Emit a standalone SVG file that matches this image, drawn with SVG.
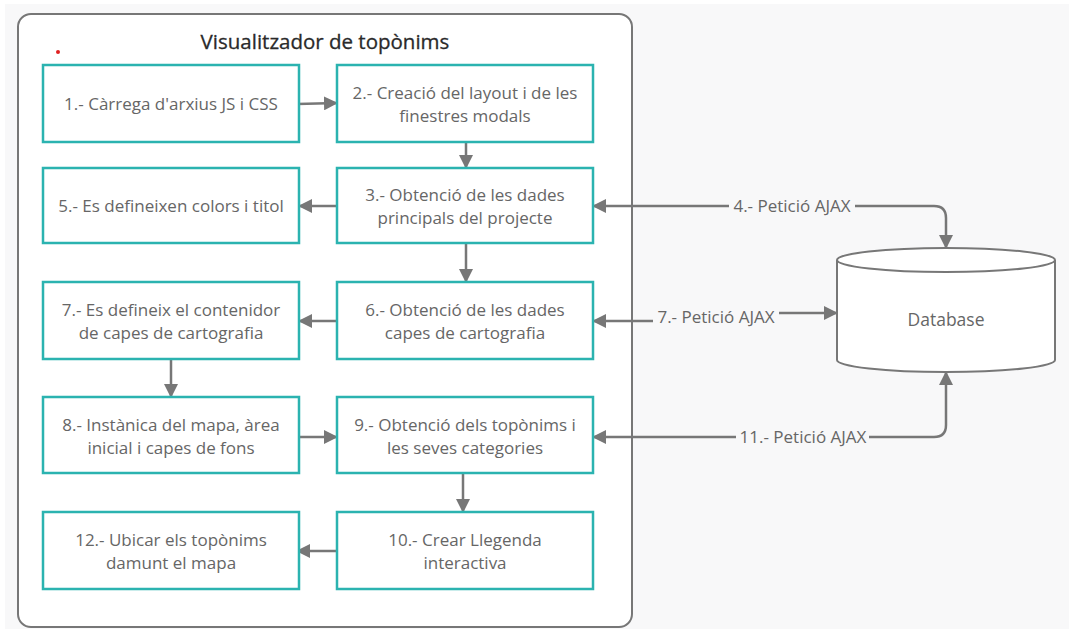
<svg xmlns="http://www.w3.org/2000/svg" width="1069" height="629" viewBox="0 0 1069 629">
  <defs>
    <marker id="arrow" viewBox="0 0 14 14" refX="13" refY="7" markerWidth="14" markerHeight="14" markerUnits="userSpaceOnUse" orient="auto">
      <path d="M0,0 L14,7 L0,14 Z" fill="#777"/>
    </marker>
    <style>
      .box { fill: #ffffff; stroke: #2bb3b0; stroke-width: 2.5; }
      .txt { font-family: "Open Sans", "Noto Sans", sans-serif; font-size: 17px; fill: #666; text-anchor: middle; }
      .lbl { font-family: "Open Sans", "Noto Sans", sans-serif; font-size: 17px; fill: #666; text-anchor: middle; }
      .conn { fill: none; stroke: #777; stroke-width: 2.5; }
    </style>
  </defs>

  <!-- canvas -->
  <rect x="0" y="0" width="1069" height="629" fill="#ffffff"/>
  <rect x="5" y="4" width="1064" height="625" fill="#f8f8f9"/>

  <!-- container -->
  <g id="container">
    <rect x="18" y="14" width="614" height="613" rx="13" fill="#ffffff" stroke="#777" stroke-width="2"/>
    <text x="325" y="49" font-family="'Open Sans', 'Noto Sans', sans-serif" font-size="20.5" fill="#2a2a2a" stroke="#2a2a2a" stroke-width="0.3" text-anchor="middle">Visualitzador de topònims</text>
    <circle cx="58" cy="52" r="2" fill="#e02020"/>
  </g>

  <!-- connectors -->
  <g id="connectors">
    <path class="conn" d="M297,104 L337,103" marker-end="url(#arrow)"/>
    <path class="conn" d="M466,142 L466,168" marker-end="url(#arrow)"/>
    <path class="conn" d="M337,206 L299,206" marker-end="url(#arrow)"/>
    <path class="conn" d="M466,243 L466,282" marker-end="url(#arrow)"/>
    <path class="conn" d="M337,321 L299,321" marker-end="url(#arrow)"/>
    <path class="conn" d="M171,359 L171,397" marker-end="url(#arrow)"/>
    <path class="conn" d="M299,437 L337,437" marker-end="url(#arrow)"/>
    <path class="conn" d="M463,473 L463,512" marker-end="url(#arrow)"/>
    <path class="conn" d="M337,551 L297,551" marker-end="url(#arrow)"/>

    <!-- 4.- request -->
    <path class="conn" d="M729,206 L593,206" marker-end="url(#arrow)"/>
    <path class="conn" d="M855,206 L934,206 Q946,206 946,218 L946,248" marker-end="url(#arrow)"/>
    <text class="lbl" x="792" y="212">4.- Petició AJAX</text>

    <!-- 7.- request -->
    <path class="conn" d="M653,321 L593,321" marker-end="url(#arrow)"/>
    <path class="conn" d="M779,313 L837,313" marker-end="url(#arrow)"/>
    <text class="lbl" x="716" y="323">7.- Petició AJAX</text>

    <!-- 11.- request -->
    <path class="conn" d="M736,437 L593,437" marker-end="url(#arrow)"/>
    <path class="conn" d="M869,437 L934,437 Q946,437 946,425 L946,372" marker-end="url(#arrow)"/>
    <text class="lbl" x="803" y="443">11.- Petició AJAX</text>
  </g>

  <!-- process steps -->
  <g id="n1">
    <rect class="box" x="43" y="65" width="256" height="77"/>
    <text class="txt" x="171" y="110">1.- Càrrega d'arxius JS i CSS</text>
  </g>
  <g id="n2">
    <rect class="box" x="337" y="65" width="256" height="77"/>
    <text class="txt" x="465" y="99">2.- Creació del layout i de les</text>
    <text class="txt" x="465" y="122">finestres modals</text>
  </g>
  <g id="n5">
    <rect class="box" x="43" y="168" width="256" height="75"/>
    <text class="txt" x="171" y="212">5.- Es defineixen colors i titol</text>
  </g>
  <g id="n3">
    <rect class="box" x="337" y="168" width="256" height="75"/>
    <text class="txt" x="465" y="201">3.- Obtenció de les dades</text>
    <text class="txt" x="465" y="224">principals del projecte</text>
  </g>
  <g id="n7">
    <rect class="box" x="43" y="282" width="256" height="77"/>
    <text class="txt" x="171" y="316">7.- Es defineix el contenidor</text>
    <text class="txt" x="171" y="339">de capes de cartografia</text>
  </g>
  <g id="n6">
    <rect class="box" x="337" y="282" width="256" height="77"/>
    <text class="txt" x="465" y="316">6.- Obtenció de les dades</text>
    <text class="txt" x="465" y="339">capes de cartografia</text>
  </g>
  <g id="n8">
    <rect class="box" x="43" y="397" width="256" height="76"/>
    <text class="txt" x="171" y="431">8.- Instànica del mapa, àrea</text>
    <text class="txt" x="171" y="454">inicial i capes de fons</text>
  </g>
  <g id="n9">
    <rect class="box" x="337" y="397" width="256" height="76"/>
    <text class="txt" x="465" y="431">9.- Obtenció dels topònims i</text>
    <text class="txt" x="465" y="454">les seves categories</text>
  </g>
  <g id="n12">
    <rect class="box" x="43" y="512" width="256" height="77"/>
    <text class="txt" x="171" y="546">12.- Ubicar els topònims</text>
    <text class="txt" x="171" y="569">damunt el mapa</text>
  </g>
  <g id="n10">
    <rect class="box" x="337" y="512" width="256" height="77"/>
    <text class="txt" x="465" y="546">10.- Crear Llegenda</text>
    <text class="txt" x="465" y="569">interactiva</text>
  </g>

  <!-- data store -->
  <g id="database">
    <path d="M837,260 A109,12 0 0 1 1055,260 L1055,360 A109,12 0 0 1 837,360 Z" fill="#ffffff" stroke="#777" stroke-width="2"/>
    <path d="M837,260 A109,12 0 0 0 1055,260" fill="none" stroke="#777" stroke-width="2"/>
    <text class="txt" x="946" y="326" style="font-size:17.5px">Database</text>
  </g>
</svg>
